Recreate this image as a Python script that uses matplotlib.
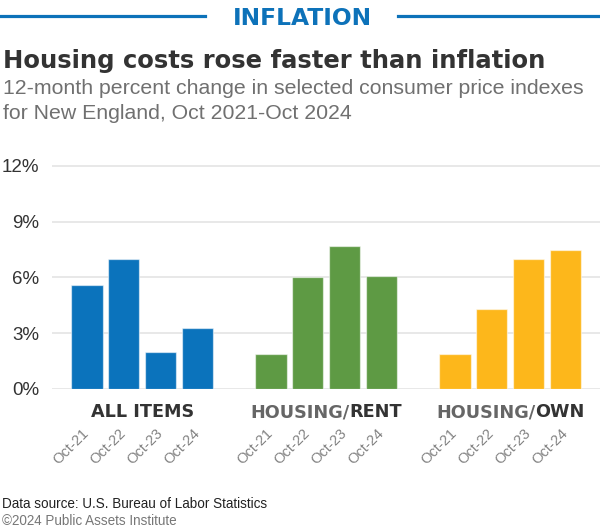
import matplotlib
matplotlib.use("Agg")
import matplotlib.pyplot as plt
import matplotlib.transforms as mtransforms
from matplotlib.lines import Line2D

# ---------------- data ----------------
groups = ["ALL ITEMS", "HOUSING/RENT", "HOUSING/OWN"]
periods = ["Oct-21", "Oct-22", "Oct-23", "Oct-24"]
all_items = [5.6, 7.0, 2.0, 3.3]
housing_rent = [1.9, 6.0, 7.7, 6.1]
housing_own = [1.9, 4.3, 7.0, 7.5]
y_ticks = [0, 3, 6, 9, 12]
y_tick_labels = ["0%", "3%", "6%", "9%", "12%"]

series = [all_items, housing_rent, housing_own]
colors = ["#0b73bc", "#5e9a44", "#fdb71b"]
BLUE = "#0d72b9"
DARK = "#333333"
GRAY = "#666666"

plt.rcParams["font.family"] = ["Liberation Sans", "DejaVu Sans"]

W, H = 600, 532
fig = plt.figure(figsize=(W / 100, H / 100), dpi=100)
fig.patch.set_facecolor("white")

y0_px, y12_px = 389.3, 165.3
ax = fig.add_axes([52 / W, 1 - y0_px / H, 1 - 52 / W, (y0_px - y12_px) / H])

positions, labels = [], []
for g, vals in enumerate(series):
    pos = [g * 5 + i for i in range(len(vals))]
    ax.bar(pos, vals, width=0.85, color=colors[g],
           edgecolor=(1, 1, 1, 0.55), linewidth=0.9, zorder=3)
    positions += pos
    labels += periods

ax.set_xlim(-0.95, 13.94)
ax.set_ylim(-0.02, 12.03)
for s in ax.spines.values():
    s.set_visible(False)
ax.set_axisbelow(True)
ax.yaxis.grid(True, color="#e6e6e6", linewidth=1.3)

ax.set_yticks(y_ticks, y_tick_labels)
ax.tick_params(axis="y", length=0, pad=9, labelsize=13.5, labelcolor=DARK)

ax.set_xticks(positions, labels)
ax.tick_params(axis="x", length=0, pad=30, labelsize=10.5, labelcolor="#828282")
for lbl in ax.get_xticklabels():
    lbl.set_rotation(45)
    lbl.set_ha("right")
    lbl.set_va("center")
    lbl.set_rotation_mode("anchor")

fig.canvas.draw()
renderer = fig.canvas.get_renderer()


def width_px(t):
    return t.get_window_extent(renderer).width


def fit(t, target):
    w = width_px(t)
    t.set_fontsize(t.get_fontsize() * target / w)


def ftext(x, y, s, **kw):
    return fig.text(x / W, 1 - y / H, s, va="baseline", **kw)


# ---------------- header ----------------
hdr = ftext(302.3, 25.0, "INFLATION", ha="center", color=BLUE,
            fontweight="bold", family="DejaVu Sans", fontsize=16)
fit(hdr, 139.3)
fig.add_artist(Line2D([0, 205 / W], [1 - 15.5 / H] * 2, transform=fig.transFigure,
                      color=BLUE, linewidth=2.3))
fig.add_artist(Line2D([398 / W, 1], [1 - 15.5 / H] * 2, transform=fig.transFigure,
                      color=BLUE, linewidth=2.3))

title = ftext(3, 68.3, "Housing costs rose faster than inflation", ha="left",
              color=DARK, fontweight="bold", family="DejaVu Sans", fontsize=18)
fit(title, 545)

sub1 = ftext(3, 94.3, "12-month percent change in selected consumer price indexes",
             ha="left", color="#707070", fontsize=14)
fit(sub1, 583)
sub2 = ftext(3, 119.3, "for New England, Oct 2021-Oct 2024", ha="left",
             color="#707070", fontsize=sub1.get_fontsize())

foot1 = ftext(2, 508.3, "Data source: U.S. Bureau of Labor Statistics", ha="left",
              color="#222222", fontsize=9)
fit(foot1, 267)
foot2 = ftext(2, 525.0, "\u00a92024 Public Assets Institute", ha="left",
              color="#777777", fontsize=foot1.get_fontsize())

# ---------------- group labels ----------------
trans = mtransforms.blended_transform_factory(ax.transData, ax.transAxes)
gy = (y0_px - 417.3) / (y0_px - y12_px)

probe = ax.text(0, gy, groups[0], transform=trans, fontweight="bold",
                family="DejaVu Sans", fontsize=12)
fig.canvas.draw()
fit(probe, 102.7)
gsize = probe.get_fontsize()
probe.remove()

for g, name in enumerate(groups):
    cx = g * 5 + 1.5
    if "/" in name:
        a, b = name.split("/")
        parts = [(a + "/", GRAY), (b, DARK)]
    else:
        parts = [(name, DARK)]
    texts = [ax.text(cx, gy, s, transform=trans, ha="left", va="baseline",
                     fontweight="bold", family="DejaVu Sans", fontsize=gsize,
                     color=c) for s, c in parts]
    fig.canvas.draw()
    widths = [width_px(t) for t in texts]
    total = sum(widths)
    off = -total / 2
    for t, w in zip(texts, widths):
        t.set_transform(trans + mtransforms.ScaledTranslation(off / 100, 0,
                                                               fig.dpi_scale_trans))
        off += w

fig.savefig("out.png", dpi=100, facecolor="white")
